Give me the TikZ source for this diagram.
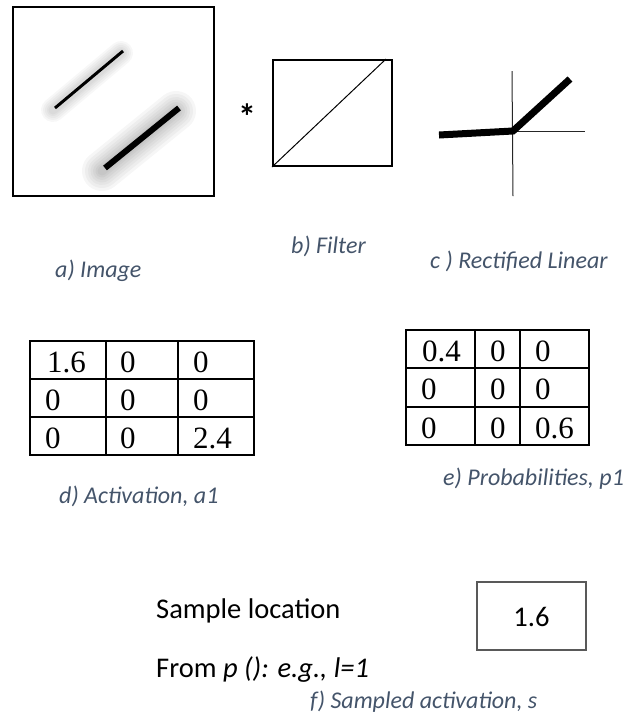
\documentclass[tikz,border=0pt]{standalone}
\usepackage{fontspec}
\setmainfont{Carlito}
\newfontfamily\tnr{Liberation Serif}
\definecolor{capc}{RGB}{68,84,106}
\definecolor{boxgray}{RGB}{89,89,89}
\tikzset{
  caption/.style={font=\fontsize{24}{28}\selectfont\itshape, text=capc, inner sep=0pt, anchor=base west},
  bigtext/.style={font=\fontsize{28.5}{32}\selectfont, inner sep=0pt, anchor=base west},
  cell/.style={font=\tnr\fontsize{31}{34}\selectfont, inner sep=0pt, anchor=base west},
  tabline/.style={line width=1.6pt},
  frame/.style={line width=2pt}
}
\begin{document}
\begin{tikzpicture}[x=1pt,y=-1pt]
\useasboundingbox (0,0) rectangle (638,716);

% a) image
\node[draw, frame, minimum width=201pt, minimum height=189pt, inner sep=0pt] (img) at (113.5,101.5) {};
\coordinate (l1a) at (55,108);
\coordinate (l1b) at (123,51);
\coordinate (l2a) at (105,168);
\coordinate (l2b) at (179,108);
\foreach \w in {24,20,16,12,9} {
  \draw[black, opacity=0.03, line width=\w pt, line cap=round] ([shift={(-2,2)}]l1a) -- ([shift={(-2,2)}]l1b);
}
\foreach \w in {40,34,28,23,18,13,9} {
  \draw[black, opacity=0.035, line width=\w pt, line cap=round] ([shift={(-3,3)}]l2a) -- ([shift={(-3,3)}]l2b);
}
\draw[line width=3pt] (l1a) -- (l1b);
\draw[line width=6pt] (l2a) -- (l2b);

% asterisk
\node[font=\fontsize{36}{38}\selectfont\bfseries, inner sep=0pt] (star) at (247,117) {*};

% b) filter
\node[draw, frame, minimum width=119pt, minimum height=106pt, inner sep=0pt] (filt) at (332.5,113) {};
\draw[line width=1pt] (filt.south west) -- ([xshift=-7pt]filt.north east);

% c) rectified linear
\coordinate (vt) at (512,71);
\coordinate (vb) at (513,196);
\coordinate (orig) at (513,131);
\coordinate (hr) at (585,131);
\coordinate (rl) at (439,135);
\coordinate (rt) at (570,79);
\draw[line width=1pt, black!85] (vt) -- (vb);
\draw[line width=1pt, black!85] (orig) -- (hr);
\draw[line width=7pt, line join=miter] (rl) -- (orig) -- (rt);

% captions top
\node[caption] (capa) at (55,277) {a) Image};
\node[caption] (capb) at (291,253) {b) Filter};
\node[caption] (capc) at (430,268) {c ) Rectified Linear};

% d) activation table
\draw[tabline] (30,341) rectangle (254,455);
\draw[tabline] (106,341) -- (106,455);
\draw[tabline] (178,341) -- (178,455);
\draw[tabline] (30,379) -- (254,379);
\draw[tabline] (30,417) -- (254,417);
\node[cell] (d11) at (47,372) {1.6};
\node[cell] (d12) at (120,372) {0};
\node[cell] (d13) at (193,372) {0};
\node[cell] (d21) at (45,410) {0};
\node[cell] (d22) at (120,410) {0};
\node[cell] (d23) at (193,410) {0};
\node[cell] (d31) at (45,448) {0};
\node[cell] (d32) at (120,448) {0};
\node[cell] (d33) at (193,448) {2.4};
\node[caption] (capd) at (59,503) {d) Activation, a1};

% e) probabilities table
\draw[tabline] (406,330) rectangle (589,445);
\draw[tabline] (475,330) -- (475,445);
\draw[tabline] (520,330) -- (520,445);
\draw[tabline] (406,368) -- (589,368);
\draw[tabline] (406,407) -- (589,407);
\node[cell] (e11) at (422,361) {0.4};
\node[cell] (e12) at (490,361) {0};
\node[cell] (e13) at (535,361) {0};
\node[cell] (e21) at (421,399) {0};
\node[cell] (e22) at (490,399) {0};
\node[cell] (e23) at (535,399) {0};
\node[cell] (e31) at (421,438) {0};
\node[cell] (e32) at (490,438) {0};
\node[cell] (e33) at (535,438) {0.6};
\node[caption] (cape) at (443,485) {e) Probabilities, p1};

% f) sampled activation
\node[bigtext] (samp) at (156,618) {Sample location};
\node[bigtext] (from) at (156,677) {From \textit{p (): e.g., l=1}};
\node[draw=boxgray, line width=1.5pt, minimum width=109pt, minimum height=68pt, inner sep=0pt] (sbox) at (531.5,616) {};
\node[bigtext, anchor=base] (sval) at (531.5,626) {1.6};
\node[caption] (capf) at (310,708) {f) Sampled activation, s};
\end{tikzpicture}
\end{document}
